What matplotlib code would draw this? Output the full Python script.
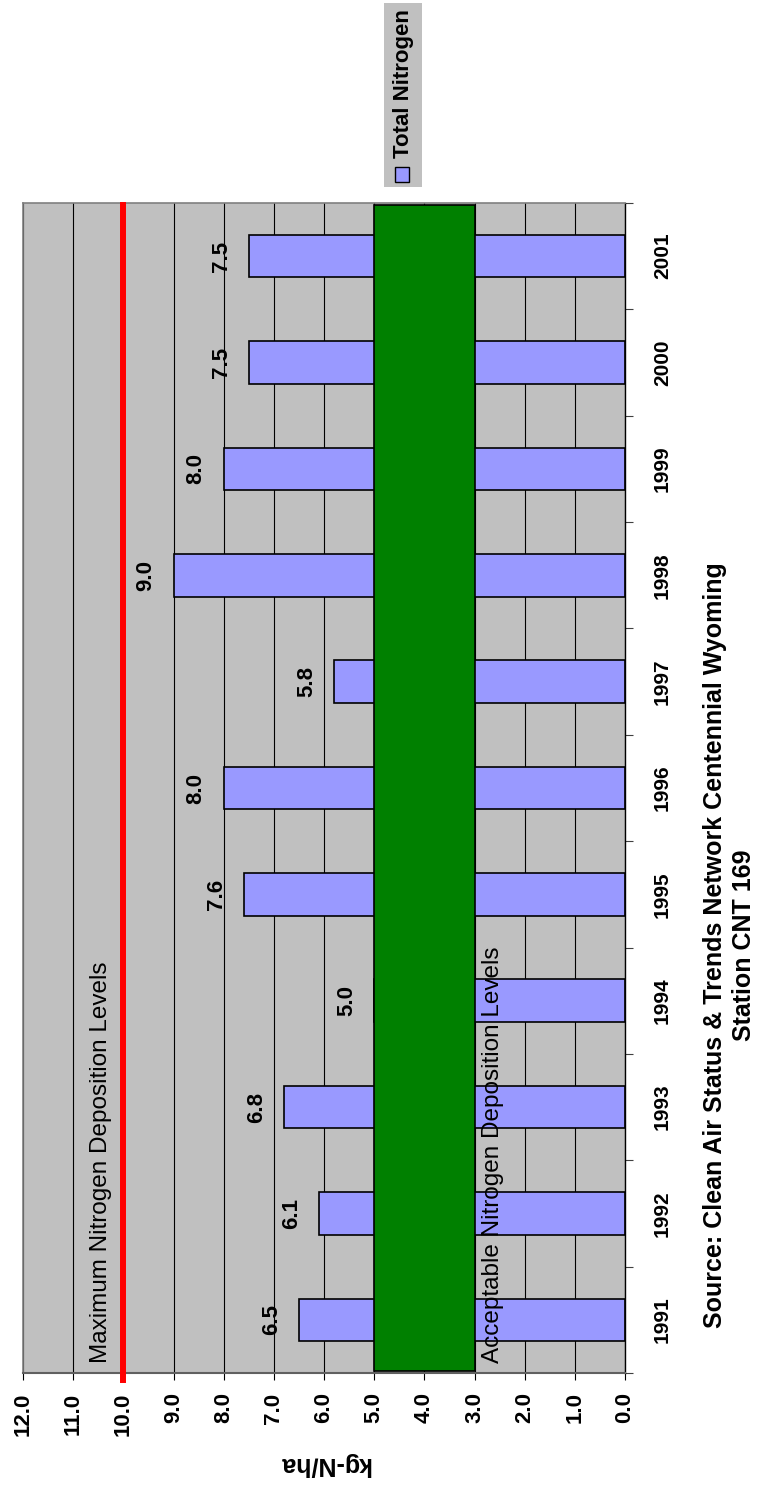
import numpy as np
import matplotlib
matplotlib.use("Agg")
from matplotlib import pyplot as plt
from matplotlib.patches import Rectangle

plt.rcParams["font.family"] = ["Liberation Sans", "DejaVu Sans"]

years = ["1991", "1992", "1993", "1994", "1995", "1996",
         "1997", "1998", "1999", "2000", "2001"]
total_nitrogen = [6.5, 6.1, 6.8, 5.0, 7.6, 8.0, 5.8, 9.0, 8.0, 7.5, 7.5]
value_ticks = np.arange(0, 13, 1)
max_level = 10.0
acceptable_low, acceptable_high = 3.0, 5.0

bar_color = "#9999FF"
plot_bg = "#C0C0C0"

W, H = 769, 1488
fig = plt.figure(figsize=(W / 100, H / 100), dpi=100)
# the whole chart is turned 90 deg: values run right->left, years bottom->top
ax = fig.add_axes([23 / W, 1 - 1373 / H, 602 / W, 1170 / H])
ax.set_facecolor(plot_bg)

pos = np.arange(len(years))
ax.barh(pos, total_nitrogen, height=0.4, color=bar_color,
        edgecolor="black", linewidth=1.2, zorder=2)
ax.set_xlim(12, 0)
ax.set_ylim(-0.5, len(years) - 0.5)
ax.xaxis.grid(True, color="black", linewidth=0.8)
ax.set_axisbelow(True)

# acceptable band and maximum line
ax.axvspan(acceptable_low, acceptable_high, ymin=0.002, ymax=0.998,
           facecolor="#008000", edgecolor="black", linewidth=1.2, zorder=3)
ax.axvline(max_level, ymin=-0.006, ymax=0.998, color="#FF0000",
           linewidth=4.3, zorder=3, clip_on=False)

ax.text(10.45, -0.41, "Maximum Nitrogen Deposition Levels", rotation=90,
        ha="center", va="bottom", fontsize=17.5, zorder=4)
ax.text(2.63, -0.41, "Acceptable Nitrogen Deposition Levels", rotation=90,
        ha="center", va="bottom", fontsize=17.5, zorder=4)

for i, v in enumerate(total_nitrogen):
    ax.text(v + 0.55, i, "%.1f" % v, rotation=90, ha="center", va="center",
            fontsize=16, fontweight="bold", zorder=4)

# value axis (bottom)
ax.set_xticks(value_ticks)
ax.set_xticklabels(["%.1f" % v for v in value_ticks], rotation=90,
                   fontsize=16, fontweight="bold")
ax.tick_params(axis="x", length=5, width=0.8, pad=9, direction="out")
ax.set_xlabel("kg-N/ha", rotation=180, fontsize=18, fontweight="bold",
              labelpad=12)

# category axis (right)
ax.yaxis.tick_right()
ax.set_yticks(pos)
ax.set_yticklabels(years, rotation=90, va="center", ha="left",
                   fontsize=15, fontweight="bold")
ax.set_yticks(np.arange(len(years) + 1) - 0.5, minor=True)
ax.tick_params(axis="y", which="major", length=0, pad=20)
ax.tick_params(axis="y", which="minor", length=6, width=0.8, color="#404040")

for s in ["left", "top"]:
    ax.spines[s].set_color("#808080")
    ax.spines[s].set_linewidth(1.2)
ax.spines["bottom"].set_color("#606060")
ax.spines["bottom"].set_linewidth(1.5)
ax.spines["right"].set_color("black")
ax.spines["right"].set_linewidth(1.0)

# title
fig.text(729.5 / W, 1 - 945 / H,
         "Source: Clean Air Status & Trends Network Centennial Wyoming\nStation CNT 169",
         rotation=90, ha="center", va="center", multialignment="center",
         fontsize=18, fontweight="bold", linespacing=1.3)

# legend box (top right, rotated)
fig.patches.append(Rectangle((384 / W, 1 - 187 / H), 38 / W, 184 / H,
                             transform=fig.transFigure, facecolor=plot_bg,
                             edgecolor="none"))
fig.patches.append(Rectangle((395 / W, 1 - 182 / H), 14 / W, 15 / H,
                             transform=fig.transFigure, facecolor=bar_color,
                             edgecolor="black", linewidth=1.0))
fig.text(403 / W, 1 - 158 / H, "Total Nitrogen", rotation=90, ha="center",
         va="bottom", fontsize=16, fontweight="bold")

fig.savefig("out.png", dpi=100)
